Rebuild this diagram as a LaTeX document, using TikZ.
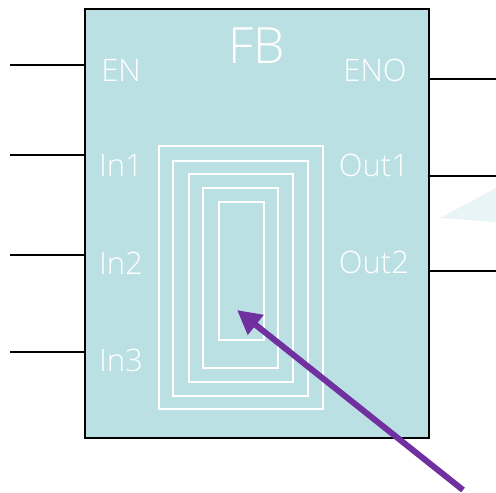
\documentclass[tikz,border=0pt]{standalone}
\usepackage{fontspec}
\setmainfont{Open Sans}[UprightFont=* Light]
\usetikzlibrary{arrows.meta}
\definecolor{fbfill}{HTML}{BBE0E3}
\definecolor{arrowpurple}{HTML}{7030A0}
\definecolor{faintshade}{HTML}{E8F4F6}
\tikzset{
  pinlabel/.style={text=white, inner sep=0pt, font=\fontsize{31}{33}\selectfont},
  wire/.style={line width=1.5pt}
}
\begin{document}
\begin{tikzpicture}[x=1pt,y=-1pt]
\useasboundingbox (0,0) rectangle (496,493);

% faint triangle behind the outputs
\fill[faintshade] (440,218) -- (496,188) -- (496,222) -- cycle;

% the block
\node[draw=black, line width=1.5pt, fill=fbfill, anchor=north west, inner sep=0pt,
  minimum width=344pt, minimum height=429pt] (fb) at (84,8) {};

% nested rectangles
\foreach \xa/\ya/\xb/\yb in {159/146/323/409, 173/161/308/396, 189/174/293/382,
  203/188/278/368, 219/202/264/340}
  \draw[white, line width=1.5pt] (\xa,\ya) rectangle (\xb,\yb);

% labels
\node[pinlabel, font=\fontsize{50}{52}\selectfont] (title) at (257,46) {FB};
\node[pinlabel] (en) at (121,70) {EN};
\node[pinlabel] (in1) at (121,165) {In1};
\node[pinlabel] (in2) at (121,263) {In2};
\node[pinlabel] (in3) at (121,360) {In3};
\node[pinlabel] (eno) at (375,70) {ENO};
\node[pinlabel] (out1) at (374,165) {Out1};
\node[pinlabel] (out2) at (374,262) {Out2};

% inputs
\foreach \n/\y in {a/65, b/155, c/255, d/352} {
  \coordinate (w\n) at (10,\y);
  \draw[wire] (w\n) -- (w\n -| fb.west);
}
% outputs
\foreach \n/\y in {a/79, b/176, c/271} {
  \coordinate (o\n) at (496,\y);
  \draw[wire] (o\n -| fb.east) -- (o\n);
}

% pointer
\coordinate (tail) at (463,490);
\coordinate (tip) at (237,310);
\draw[arrowpurple, line width=6pt, -{Triangle[length=24pt,width=24pt]}] (tail) -- (tip);

\end{tikzpicture}
\end{document}
